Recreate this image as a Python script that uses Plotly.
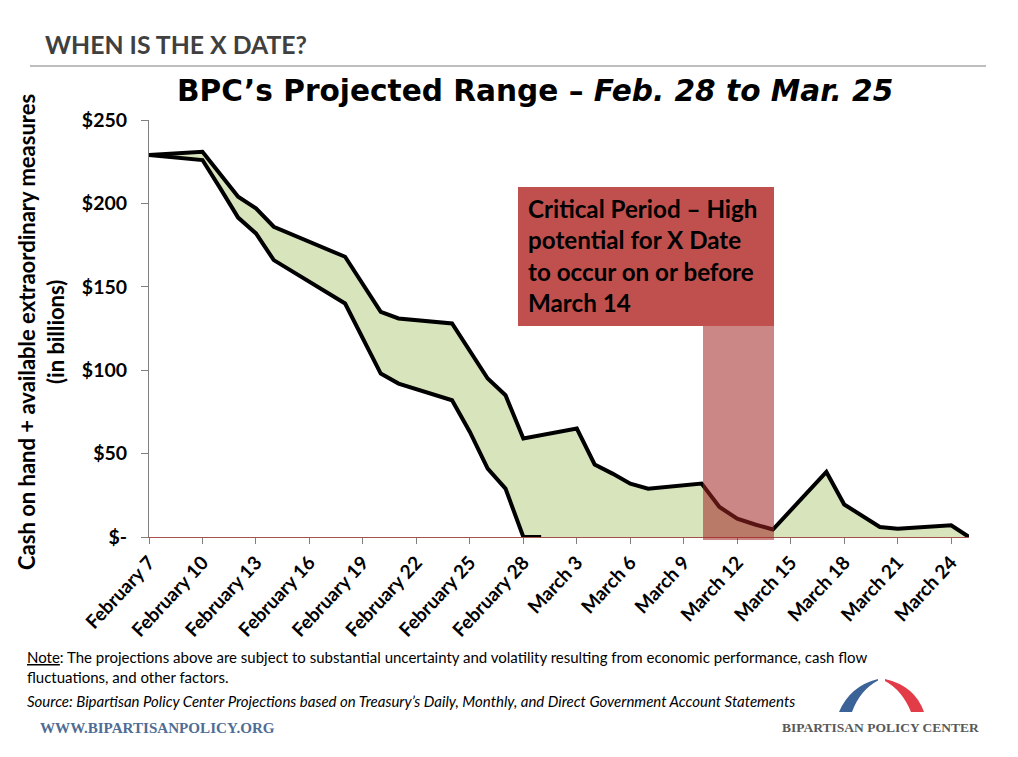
import plotly.graph_objects as go

W, H = 1018, 757
L, R, T, B = 149, 969, 120, 537

upper_dates = ["2013-02-07","2013-02-10","2013-02-12","2013-02-13","2013-02-14","2013-02-18","2013-02-20","2013-02-21",
               "2013-02-24","2013-02-26","2013-02-27","2013-02-28","2013-03-03","2013-03-04","2013-03-05","2013-03-06",
               "2013-03-07","2013-03-10","2013-03-11","2013-03-12","2013-03-13","2013-03-14","2013-03-17","2013-03-18",
               "2013-03-20","2013-03-21","2013-03-24","2013-03-25"]
upper_values = [229,231,204,197,186,168,135,131,128,95,85,59,65,43.5,38,32,29,32,18,11,7.5,4.5,39,19.5,6,5,7,0]
lower_dates = ["2013-02-07","2013-02-10","2013-02-11","2013-02-12","2013-02-13","2013-02-14","2013-02-18","2013-02-20",
               "2013-02-21","2013-02-24","2013-02-25","2013-02-26","2013-02-27","2013-02-28","2013-03-01"]
lower_values = [229,226,209,191.5,182,166,140,98,92,82,63,41,29,0,0]

tick_dates = ["2013-02-07","2013-02-10","2013-02-13","2013-02-16","2013-02-19","2013-02-22","2013-02-25","2013-02-28",
              "2013-03-03","2013-03-06","2013-03-09","2013-03-12","2013-03-15","2013-03-18","2013-03-21","2013-03-24"]
tick_labels = ["February 7","February 10","February 13","February 16","February 19","February 22","February 25",
               "February 28","March 3","March 6","March 9","March 12","March 15","March 18","March 21","March 24"]
y_ticks = [0,50,100,150,200,250]
y_labels = ["$-","$50","$100","$150","$200","$250"]

SANS = "Lato, 'Open Sans', sans-serif"
SERIF = "'Liberation Serif', serif"

def px(x): return (x - L) / (R - L)
def py(y): return (B - y) / (B - T)

def note(x, y, text, size, color="#000", xa="left", font=SANS, angle=0, ya="middle", align="left"):
    return dict(x=px(x), y=py(y), xref="paper", yref="paper", text=text, showarrow=False, xanchor=xa, yanchor=ya,
                align=align, textangle=angle, font=dict(size=size, color=color, family=font))

def rect(x0, y0, x1, y1, color, layer="above"):
    return dict(type="rect", xref="paper", yref="paper", x0=px(x0), x1=px(x1), y0=py(y0), y1=py(y1),
                fillcolor=color, line=dict(width=0), layer=layer)

def path(pts, color):
    return dict(type="path", xref="paper", yref="paper", path=pts, fillcolor=color, line=dict(width=0), layer="above")

fig = go.Figure()
fig.add_trace(go.Scatter(x=lower_dates, y=lower_values, mode="lines", line=dict(color="#000", width=4), hoverinfo="skip"))
fig.add_trace(go.Scatter(x=upper_dates, y=upper_values, mode="lines", line=dict(color="#000", width=4),
                         fill="tonexty", fillcolor="#D8E4BC", hoverinfo="skip"))

def P(x, y): return f"{px(x):.5f} {py(y):.5f}"

shapes = [
    dict(type="line", xref="paper", yref="paper", x0=px(30), x1=px(986), y0=py(66), y1=py(66), line=dict(color="#7f7f7f", width=1)),
    rect(703, 326, 774, 540, "rgba(160,35,35,0.55)"),
    rect(518, 187, 774, 326, "#C0504D"),
    path(f"M {P(839,712)} Q {P(850,686)} {P(878,679)} L {P(878,680.5)} Q {P(860,690)} {P(852,712)} Z", "#3B6397"),
    path(f"M {P(885,679)} Q {P(915,686)} {P(924,712)} L {P(911,712)} Q {P(902,690)} {P(885,681)} Z", "#E23C49"),
]

annotations = [
    note(43, 44, "<b>WHEN IS THE X DATE?</b>", 24.8, "#404040"),
    note(535, 91, "<b>BPC’s Projected Range – <i>Feb. 28 to Mar. 25</i></b>", 29.6, "#000", xa="center", font="'DejaVu Sans', sans-serif"),
    note(526, 255.5, "<b>Critical Period – High<br>potential for X Date<br>to occur on or before<br>March 14</b>", 24.2, "#000"),
    note(26, 332, "<b>Cash on hand + available extraordinary measures</b>", 22, "#000", xa="center", angle=-90),
    note(55, 332, "<b>(in billions)</b>", 22, "#000", xa="center", angle=-90),
    note(25, 657, "<u>Note</u>: The projections above are subject to substantial uncertainty and volatility resulting from economic performance, cash flow", 15),
    note(25, 677, "fluctuations, and other factors.", 15),
    note(25, 701, "<i>Source: Bipartisan Policy Center Projections based on Treasury’s Daily, Monthly, and Direct Government Account Statements</i>", 15),
    note(38, 728, "<b>WWW.BIPARTISANPOLICY.ORG</b>", 15.1, "#4F6D94", font=SERIF),
    note(780, 727, "<b>BIPARTISAN POLICY CENTER</b>", 13.5, "#595959", font=SERIF),
]

fig.update_layout(
    width=W, height=H, paper_bgcolor="#fff", plot_bgcolor="#fff", showlegend=False,
    margin=dict(l=L, r=W - R, t=T, b=H - B, pad=0),
    shapes=shapes, annotations=annotations,
    xaxis=dict(type="date", range=["2013-02-07", "2013-03-25"], tickmode="array", tickvals=tick_dates, ticktext=tick_labels,
               tickangle=-47, ticks="outside", ticklen=6, tickcolor="#808080", showgrid=False, zeroline=False,
               showline=True, linecolor="#A4524E", linewidth=1,
               tickfont=dict(family=SANS, size=19, color="#000", weight="bold")),
    yaxis=dict(range=[0, 250], tickmode="array", tickvals=y_ticks, ticktext=y_labels, ticks="outside", ticklen=7,
               ticklabelstandoff=10, tickcolor="#808080", showgrid=False, zeroline=False, showline=True, linecolor="#808080", linewidth=1,
               tickfont=dict(family=SANS, size=19.5, color="#000", weight="bold")),
)

fig.write_html("out.html", config={"displayModeBar": False},
               post_script="document.body.style.margin='0';document.body.style.overflow='hidden';")
